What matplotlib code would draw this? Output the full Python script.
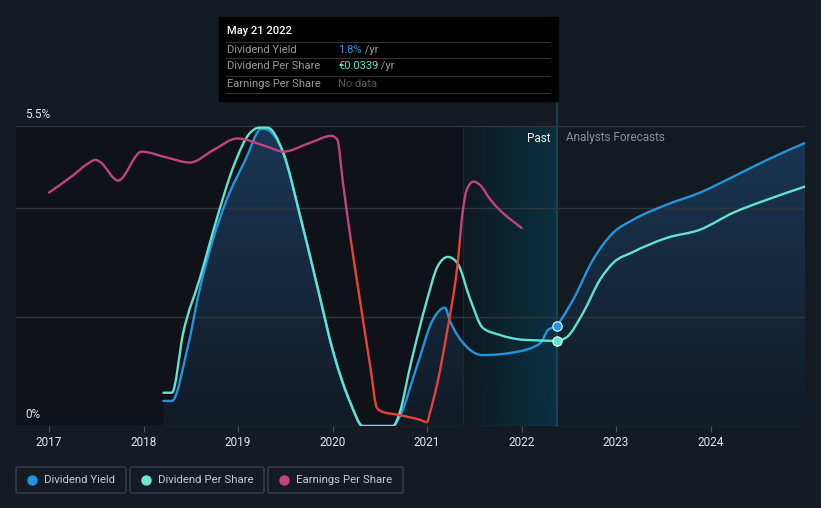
import numpy as np
import matplotlib
matplotlib.use("Agg")
import matplotlib.pyplot as plt
from matplotlib.colors import LinearSegmentedColormap
from matplotlib.patches import Rectangle, FancyBboxPatch, PathPatch
from matplotlib.path import Path

plt.rcParams['font.family'] = ['Roboto', 'DejaVu Sans']

# dividend yield (%), past + forecast
dy_x = [2018.21, 2018.30, 2018.46, 2018.60, 2018.74, 2018.88, 2019.07, 2019.25, 2019.31,
        2019.48, 2019.66, 2019.84, 2020.01, 2020.19, 2020.32, 2020.64, 2020.71, 2020.89,
        2021.06, 2021.19, 2021.24, 2021.42, 2021.59, 2021.95, 2022.20, 2022.28, 2022.376]
dy_y = [0.46, 0.46, 1.39, 2.55, 3.45, 4.15, 4.85, 5.45, 5.43,
        5.00, 3.83, 2.55, 1.34, 0.42, 0.0, 0.0, 0.17, 1.08,
        1.94, 2.17, 1.94, 1.45, 1.30, 1.36, 1.52, 1.76, 1.83]
dy_fx = [2022.376, 2022.545, 2022.757, 2022.968, 2023.18, 2023.54, 2023.89, 2024.24, 2024.60, 2025.0]
dy_fy = [1.83, 2.31, 3.05, 3.54, 3.78, 4.06, 4.28, 4.57, 4.88, 5.19]

# dividend per share (scaled)
dps_x = [2018.21, 2018.30, 2018.42, 2018.60, 2018.78, 2018.95, 2019.13, 2019.23, 2019.31,
         2019.48, 2019.66, 2019.84, 2020.01, 2020.19, 2020.32, 2020.64, 2020.71, 2020.82,
         2021.00, 2021.11, 2021.22, 2021.32, 2021.46, 2021.59, 2021.77, 2022.02, 2022.376]
dps_y = [0.61, 0.61, 1.71, 2.73, 3.83, 4.75, 5.38, 5.47, 5.47,
         5.00, 3.83, 2.55, 1.34, 0.42, 0.0, 0.0, 0.24, 1.08,
         2.31, 2.92, 3.10, 2.99, 2.31, 1.80, 1.67, 1.58, 1.56]
dps_fx = [2022.376, 2022.48, 2022.65, 2022.83, 2022.97, 2023.18, 2023.54, 2023.89, 2024.24, 2024.60, 2025.0]
dps_fy = [1.56, 1.63, 2.07, 2.68, 2.99, 3.19, 3.45, 3.60, 3.91, 4.15, 4.39]

# earnings per share (scaled)
eps_x = [2017.0, 2017.25, 2017.41, 2017.49, 2017.54, 2017.73, 2017.98, 2018.25, 2018.49,
         2018.74, 2018.99, 2019.31, 2019.48, 2019.76, 2019.99, 2020.05, 2020.11, 2020.19,
         2020.29, 2020.40, 2020.47, 2020.53, 2020.71, 2020.93, 2021.00, 2021.03, 2021.11,
         2021.21, 2021.32, 2021.38, 2021.42, 2021.49, 2021.56, 2021.67, 2021.77, 2022.0]
eps_y = [4.28, 4.59, 4.81, 4.88, 4.84, 4.50, 5.03, 4.92, 4.83,
         5.06, 5.27, 5.12, 5.03, 5.19, 5.32, 5.25, 4.46, 3.45,
         2.31, 1.08, 0.33, 0.26, 0.20, 0.11, 0.07, 0.24, 0.79,
         1.71, 2.92, 3.96, 4.33, 4.48, 4.42, 4.15, 3.96, 3.63]
eps_neg_level = 3.45

years = [2017, 2018, 2019, 2020, 2021, 2022, 2023, 2024]
grid_levels = [0, 2, 4, 5.5]
now = 2022.376
past_start = 2021.38

BG = '#151b24'
BLUE = '#2394df'
CYAN = '#62e3cf'
MAG = '#c2447e'
RED = '#e8413a'


def smooth_path(xs, ys, close_to=None):
    # monotone cubic curve through the points, drawn as bezier segments
    x = np.asarray(xs, float)
    y = np.asarray(ys, float)
    h = np.diff(x)
    s = np.diff(y) / h
    m = np.zeros(len(x))
    m[0], m[-1] = s[0], s[-1]
    for i in range(1, len(x) - 1):
        if s[i - 1] * s[i] <= 0:
            m[i] = 0
        else:
            p = (s[i - 1] * h[i] + s[i] * h[i - 1]) / (h[i - 1] + h[i])
            m[i] = np.sign(s[i]) * min(abs(s[i - 1]), abs(s[i]), 0.5 * abs(p)) * 2
    verts = [(x[0], y[0])]
    codes = [Path.MOVETO]
    for i in range(len(x) - 1):
        d = h[i] / 3
        verts += [(x[i] + d, y[i] + m[i] * d), (x[i + 1] - d, y[i + 1] - m[i + 1] * d), (x[i + 1], y[i + 1])]
        codes += [Path.CURVE4] * 3
    if close_to is not None:
        verts += [(x[-1], close_to), (x[0], close_to), (x[0], y[0])]
        codes += [Path.LINETO, Path.LINETO, Path.CLOSEPOLY]
    return Path(verts, codes)


def line(ax, xs, ys, color, z, clip=None):
    p = PathPatch(smooth_path(xs, ys), facecolor='none', edgecolor=color, lw=1.7,
                  zorder=z, capstyle='round', joinstyle='round')
    ax.add_patch(p)
    if clip is not None:
        p.set_clip_path(clip)
    return p


W, H = 821, 508
fig = plt.figure(figsize=(W / 100, H / 100), dpi=100, facecolor=BG)
ax = fig.add_axes([16 / W, 1 - 426 / H, (805 - 16) / W, 300 / H])
ax.set_facecolor('#141a22')
x0, x1 = 2016.65, 2025.0

ax.axvspan(x0, past_start, color='#0f1319', zorder=0, lw=0)

# gradient fill under dividend yield
fill_path = smooth_path(dy_x + dy_fx[1:], dy_y + dy_fy[1:], close_to=0)
cm = LinearSegmentedColormap.from_list('f', ['#111b26', '#1b3754'])
im = ax.imshow(np.linspace(0, 1, 100).reshape(-1, 1), extent=[x0, x1, 0, 5.5],
               aspect='auto', origin='lower', cmap=cm, zorder=1)
im.set_clip_path(fill_path, transform=ax.transData)

# past highlight
cm2 = LinearSegmentedColormap.from_list('p', ['#0e1a20', '#0a3445'])
ax.imshow(np.linspace(0, 1, 100).reshape(1, -1), extent=[past_start, now, 0, 5.5],
          aspect='auto', cmap=cm2, alpha=0.9, zorder=2)
ax.axvline(past_start, color='#1b2a33', lw=0.8, zorder=2)
ax.plot([now, now], [0, 5.5 + (126 - 101) / 54.5], color='#1d4a5c',
        lw=1.2, zorder=2, clip_on=False)
ax.set_xlim(x0, x1)
ax.set_ylim(0, 5.5)

for g in grid_levels:
    ax.axhline(g, color='#2f353f' if g else '#3a404a', lw=1, zorder=3)

# lines
line(ax, dy_x, dy_y, BLUE, 5)
line(ax, dy_fx, dy_fy, BLUE, 5)
line(ax, dps_x, dps_y, CYAN, 6)
line(ax, dps_fx, dps_fy, CYAN, 6)
line(ax, eps_x, eps_y, MAG, 7,
     clip=Rectangle((x0, eps_neg_level), x1 - x0, 10, transform=ax.transData))
line(ax, eps_x, eps_y, RED, 7,
     clip=Rectangle((x0, -5), x1 - x0, eps_neg_level + 5, transform=ax.transData))

ax.scatter([now], [dy_y[-1]], s=45, color=BLUE, edgecolor='white', lw=0.8, zorder=9)
ax.scatter([now], [dps_y[-1]], s=45, color=CYAN, edgecolor='white', lw=0.8, zorder=9)

for s in ax.spines.values():
    s.set_visible(False)
ax.set_yticks([])
ax.set_xticks(years)
ax.set_xticklabels([str(y) for y in years], color='#e6e6e6', fontsize=8.5)
ax.tick_params(axis='x', length=4, color='#4a505a', pad=3)


def ftext(x, y, s, **kw):
    return fig.text(x / W, 1 - y / H, s, **kw)


ftext(25, 114, '5.5%', color='#e6e6e6', fontsize=8.5, va='center')
ftext(25, 414, '0%', color='#e6e6e6', fontsize=8.5, va='center')
ftext(550, 138, 'Past', color='#f0f0f0', fontsize=8.5, va='center', ha='right')
ftext(566, 138, 'Analysts Forecasts', color='#8a8f96', fontsize=8.5, va='center')

# tooltip
fig.patches.append(Rectangle((219 / W, 1 - 101 / H), (558 - 219) / W, 84 / H,
                             transform=fig.transFigure, color='#000000', zorder=10))
ftext(227, 31, 'May 21 2022', color='white', fontsize=8, va='center', fontweight='medium', zorder=11)
for yy in [42, 58, 76, 93]:
    fig.add_artist(plt.Line2D([226 / W, 550 / W], [1 - yy / H] * 2, color='#333333', lw=0.8, zorder=11))
rows = [('Dividend Yield', '1.8%', BLUE, ' /yr'),
        ('Dividend Per Share', '€0.0339', CYAN, ' /yr'),
        ('Earnings Per Share', 'No data', '#5a5a5a', '')]
fig.canvas.draw()
for i, (lab, val, col, unit) in enumerate(rows):
    yy = [50, 66, 84][i]
    ftext(227, yy, lab, color='#9a9a9a', fontsize=8, va='center', zorder=11)
    t = ftext(338, yy, val, color=col, fontsize=8, va='center', zorder=11)
    if unit:
        bb = t.get_window_extent(renderer=fig.canvas.get_renderer())
        fig.text(bb.x1 / W, 1 - yy / H, unit, color='#9a9a9a', fontsize=8, va='center', zorder=11)

# legend
leg = [(16, 126, 'Dividend Yield', BLUE), (130, 264, 'Dividend Per Share', '#6ee6d4'),
       (268, 403, 'Earnings Per Share', MAG)]
for a, b, lab, col in leg:
    fig.patches.append(FancyBboxPatch((a / W, 1 - 493 / H), (b - a) / W, 26 / H,
                                      boxstyle='round,pad=0,rounding_size=0.003',
                                      transform=fig.transFigure, facecolor='none',
                                      edgecolor='#3b414a', lw=1))
    fig.add_artist(plt.Line2D([(a + 16) / W], [1 - 480 / H], marker='o', markersize=6.5,
                              color=col, lw=0))
    ftext(a + 28, 480, lab, color='#c8ccd0', fontsize=8.2, va='center')

fig.savefig('out.png', dpi=100, facecolor=BG)
